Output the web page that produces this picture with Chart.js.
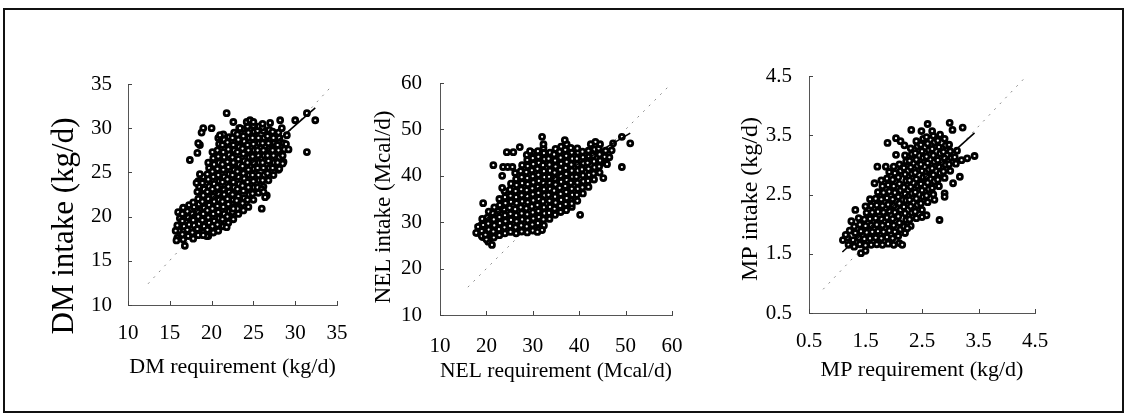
<!DOCTYPE html>
<html>
<head>
<meta charset="utf-8">
<script src="https://cdn.jsdelivr.net/npm/chart.js@4.4.1/dist/chart.umd.min.js"></script>
<style>
  html, body { margin: 0; padding: 0; background: #fff; }
  body { width: 1127px; height: 417px; position: relative; overflow: hidden; }
  canvas { position: absolute; top: 0; }
  #frame { position: absolute; left: 3px; top: 8px; width: 1121px; height: 405px; box-sizing: border-box; border: 2px solid #111; }
</style>
</head>
<body>
<div id="frame"></div>
<canvas id="c1" width="365" height="417" style="left:0px"></canvas>
<canvas id="c2" width="375" height="417" style="left:365px"></canvas>
<canvas id="c3" width="387" height="417" style="left:740px"></canvas>
<script>
// ---------- tick labels ----------
const dmTicks = [10, 15, 20, 25, 30, 35];
const nelTicks = [10, 20, 30, 40, 50, 60];
const mpTicks = [0.5, 1.5, 2.5, 3.5, 4.5];

// ---------- DM: [requirement, intake] kg/d ----------
const dmPoints = [
[15.9,17.6],[16.1,18.4],[15.9,19.0],[16.2,19.8],[16.0,20.5],
[16.6,17.4],[16.5,18.0],[16.7,18.9],[16.5,19.5],[16.7,20.3],[16.6,20.9],
[17.2,17.8],[17.1,18.5],[17.3,19.1],[17.2,19.9],[17.1,20.6],[17.3,21.3],
[17.8,17.5],[17.7,18.2],[17.9,19.0],[17.8,19.6],[17.7,20.3],[17.9,21.1],[17.8,21.6],
[18.4,17.9],[18.3,18.6],[18.5,19.2],[18.4,20.0],[18.3,20.6],[18.5,21.4],[18.4,22.0],[18.3,22.8],[18.5,23.4],[18.4,24.0],
[19.0,18.2],[19.1,18.9],[18.9,19.6],[19.0,20.3],[19.1,21.0],[18.9,21.7],[19.0,22.4],[19.1,23.1],[18.9,23.8],[19.0,24.5],
[19.6,17.8],[19.5,18.5],[19.7,19.3],[19.6,19.9],[19.5,20.7],[19.7,21.3],[19.6,22.0],[19.5,22.8],[19.7,23.4],[19.6,24.2],[19.5,24.8],[19.7,25.5],[19.6,26.1],
[20.2,18.2],[20.1,18.9],[20.3,19.5],[20.2,20.3],[20.1,20.9],[20.3,21.7],[20.2,22.3],[20.1,23.1],[20.3,23.7],[20.2,24.5],[20.1,25.1],[20.3,25.9],[20.2,26.6],[20.1,27.3],
[20.8,18.4],[20.7,19.1],[20.9,19.8],[20.8,20.5],[20.7,21.2],[20.9,21.9],[20.8,22.6],[20.7,23.3],[20.9,24.0],[20.8,24.7],[20.7,25.4],[20.9,26.1],[20.8,26.8],[20.7,27.5],[20.9,28.2],[20.8,28.9],
[21.4,18.9],[21.3,19.7],[21.5,20.3],[21.4,21.1],[21.3,21.7],[21.5,22.5],[21.4,23.1],[21.3,23.9],[21.5,24.5],[21.4,25.3],[21.3,25.9],[21.5,26.7],[21.4,27.3],[21.3,28.1],[21.5,28.7],[21.4,29.3],
[22.0,19.3],[21.9,20.0],[22.1,20.6],[22.0,21.4],[21.9,22.0],[22.1,22.8],[22.0,23.4],[21.9,24.2],[22.1,24.8],[22.0,25.6],[21.9,26.2],[22.1,27.0],[22.0,27.6],[21.9,28.4],[22.1,29.0],
[22.6,19.7],[22.5,20.5],[22.7,21.1],[22.6,21.9],[22.5,22.5],[22.7,23.3],[22.6,23.9],[22.5,24.7],[22.7,25.3],[22.6,26.1],[22.5,26.7],[22.7,27.5],[22.6,28.1],[22.5,28.9],[22.7,29.5],
[23.2,20.3],[23.1,20.9],[23.3,21.7],[23.2,22.3],[23.1,23.1],[23.3,23.7],[23.2,24.5],[23.1,25.1],[23.3,25.9],[23.2,26.5],[23.1,27.3],[23.3,27.9],[23.2,28.7],[23.1,29.3],[23.3,30.0],
[23.8,20.7],[23.7,21.5],[23.9,22.1],[23.8,22.9],[23.7,23.5],[23.9,24.3],[23.8,24.9],[23.7,25.7],[23.9,26.3],[23.8,27.1],[23.7,27.7],[23.9,28.5],[23.8,29.1],[23.7,29.9],
[24.4,21.1],[24.3,21.9],[24.5,22.5],[24.4,23.3],[24.3,23.9],[24.5,24.7],[24.4,25.3],[24.3,26.1],[24.5,26.7],[24.4,27.5],[24.3,28.1],[24.5,28.9],[24.4,29.5],[24.3,30.2],
[25.0,21.9],[24.9,22.6],[25.1,23.3],[25.0,24.0],[24.9,24.7],[25.1,25.4],[25.0,26.1],[24.9,26.8],[25.1,27.5],[25.0,28.2],[24.9,28.9],[25.1,29.6],[25.0,30.3],
[25.6,22.7],[25.5,23.3],[25.7,24.1],[25.6,24.7],[25.5,25.5],[25.7,26.1],[25.6,26.9],[25.5,27.5],[25.7,28.3],[25.6,28.9],[25.5,29.7],[25.7,30.2],
[26.2,23.4],[26.1,24.1],[26.3,24.7],[26.2,25.5],[26.1,26.1],[26.3,26.9],[26.2,27.5],[26.1,28.3],[26.3,28.9],[26.2,29.7],[26.1,30.1],
[26.8,24.1],[26.7,24.9],[26.9,25.5],[26.8,26.3],[26.7,26.9],[26.9,27.7],[26.8,28.3],[26.7,29.1],[26.9,29.8],
[27.4,24.7],[27.3,25.5],[27.5,26.1],[27.4,26.9],[27.3,27.5],[27.5,28.3],[27.4,28.9],[27.3,29.6],
[28.0,25.3],[27.9,26.1],[28.1,26.7],[28.0,27.5],[27.9,28.1],[28.1,28.9],[28.0,29.5],
[28.6,26.2],[28.5,26.9],[28.7,27.6],[28.6,28.3],
[21.8,31.7],[22.6,30.7],[19.0,30.0],[18.8,29.5],[20.0,30.0],[18.6,28.1],[17.4,26.4],[18.3,27.2],[18.4,28.3],[18.2,23.8],
[18.6,24.8],[16.6,21.0],[16.5,20.3],[15.8,17.3],[16.8,16.7],[15.7,18.4],[32.4,30.9],[31.4,27.3],[31.4,31.7],[30.0,30.9],
[28.2,30.9],[28.4,30.0],[28.9,28.2],[28.5,26.0],[28.1,25.4],[26.0,20.9],[26.6,22.4],[26.0,23.1],[26.2,22.8],[26.4,22.2],
[24.2,30.7],[24.6,30.9],[25.0,30.7],[26.1,30.5],[23.4,30.0],[21.0,29.2],[23.0,21.8],[22.6,20.9],[21.8,18.8],[19.4,17.8],
[19.0,17.9],[29.2,27.6],[29.0,29.2],[27.0,30.6]
];
const dmUnity = [[12.4, 12.4], [34.4, 34.8]];
const dmFit = [[17.0, 19.6], [32.4, 32.3]];

// ---------- NEL: [requirement, intake] Mcal/d ----------
const nelPoints = [
[18.0,27.7],[18.2,29.0],
[19.2,26.8],[19.0,28.1],[19.3,29.4],[19.1,30.7],
[20.4,25.8],[20.3,27.1],[20.5,28.4],[20.4,29.7],[20.2,31.0],[20.5,32.3],
[21.6,26.7],[21.5,28.0],[21.7,29.3],[21.6,30.6],[21.4,31.9],[21.7,33.2],
[22.8,27.2],[22.7,28.5],[22.9,29.8],[22.8,31.1],[22.6,32.4],[22.9,33.7],[22.8,35.0],
[24.0,27.6],[23.9,28.9],[24.1,30.2],[24.0,31.5],[23.8,32.8],[24.1,34.1],[24.0,35.4],[23.9,36.7],
[25.2,27.9],[25.1,29.2],[25.3,30.5],[25.2,31.8],[25.0,33.1],[25.3,34.4],[25.2,35.7],[25.1,37.0],[25.3,38.3],
[26.4,27.6],[26.3,28.9],[26.5,30.2],[26.4,31.5],[26.2,32.8],[26.5,34.1],[26.4,35.4],[26.3,36.7],[26.5,38.0],[26.4,39.3],[26.2,40.6],
[27.6,28.0],[27.5,29.3],[27.7,30.6],[27.6,31.9],[27.4,33.2],[27.7,34.5],[27.6,35.8],[27.5,37.1],[27.7,38.4],[27.6,39.7],[27.4,41.0],[27.7,42.3],
[28.8,27.8],[28.7,29.1],[28.9,30.4],[28.8,31.7],[28.6,33.0],[28.9,34.3],[28.8,35.6],[28.7,36.9],[28.9,38.2],[28.8,39.5],[28.6,40.8],[28.9,42.1],[28.8,43.4],[28.7,44.5],
[30.0,28.2],[29.9,29.5],[30.1,30.8],[30.0,32.1],[29.8,33.4],[30.1,34.7],[30.0,36.0],[29.9,37.3],[30.1,38.6],[30.0,39.9],[29.8,41.2],[30.1,42.5],[30.0,43.8],[29.9,45.0],
[31.2,28.5],[31.1,29.8],[31.3,31.1],[31.2,32.4],[31.0,33.7],[31.3,35.0],[31.2,36.3],[31.1,37.6],[31.3,38.9],[31.2,40.2],[31.0,41.5],[31.3,42.8],[31.2,44.1],[31.1,45.3],
[32.4,29.3],[32.3,30.6],[32.5,31.9],[32.4,33.2],[32.2,34.5],[32.5,35.8],[32.4,37.1],[32.3,38.4],[32.5,39.7],[32.4,41.0],[32.2,42.3],[32.5,43.6],[32.4,44.9],[32.3,46.0],
[33.6,30.7],[33.5,32.0],[33.7,33.3],[33.6,34.6],[33.4,35.9],[33.7,37.2],[33.6,38.5],[33.5,39.8],[33.7,41.1],[33.6,42.4],[33.4,43.7],[33.7,45.0],
[34.8,31.6],[34.7,32.9],[34.9,34.2],[34.8,35.5],[34.6,36.8],[34.9,38.1],[34.8,39.4],[34.7,40.7],[34.9,42.0],[34.8,43.3],[34.6,44.6],[34.9,45.8],
[36.0,32.2],[35.9,33.5],[36.1,34.8],[36.0,36.1],[35.8,37.4],[36.1,38.7],[36.0,40.0],[35.9,41.3],[36.1,42.6],[36.0,43.9],[35.8,45.2],[36.1,46.3],
[37.2,32.6],[37.1,33.9],[37.3,35.2],[37.2,36.5],[37.0,37.8],[37.3,39.1],[37.2,40.4],[37.1,41.7],[37.3,43.0],[37.2,44.3],[37.0,45.6],[37.3,46.8],
[38.4,33.3],[38.3,34.6],[38.5,35.9],[38.4,37.2],[38.2,38.5],[38.5,39.8],[38.4,41.1],[38.3,42.4],[38.5,43.7],[38.4,45.0],[38.2,46.0],
[39.6,34.6],[39.5,35.9],[39.7,37.2],[39.6,38.5],[39.4,39.8],[39.7,41.1],[39.6,42.4],[39.5,43.7],[39.7,45.0],[39.6,45.9],
[40.8,36.2],[40.7,37.5],[40.9,38.8],[40.8,40.1],[40.6,41.4],[40.9,42.7],[40.8,44.0],[40.7,45.2],
[42.0,37.6],[41.9,38.9],[42.1,40.2],[42.0,41.5],[41.8,42.8],[42.1,44.1],[42.0,45.4],
[43.2,39.2],[43.1,40.5],[43.3,41.8],[43.2,43.1],[43.0,44.4],[43.3,45.7],
[44.4,40.7],[44.3,42.0],[44.5,43.3],[44.4,44.6],[44.2,45.9],
[45.6,42.8],[45.5,44.1],[45.7,45.4],
[17.8,27.7],[19.3,34.1],[21.5,42.3],[23.4,37.4],[23.4,40.0],[23.6,41.9],[24.6,41.9],[25.6,41.9],[24.4,45.1],[25.8,45.1],
[27.2,46.2],[32.0,48.4],[32.3,46.8],[29.4,45.3],[21.2,25.1],[40.2,31.6],[45.2,39.5],[49.2,41.9],[51.0,47.0],[49.2,48.4],
[47.3,47.0],[44.5,46.8],[46.5,44.0],[47.0,45.5],[46.0,42.5],[43.5,47.3],[42.5,46.8],[36.9,47.7],[38.4,34.0],[32.0,28.3],
[31.0,27.9],[19.0,27.0],[20.0,26.3],[19.8,27.3]
];
const nelUnity = [[16, 16], [59, 59]];
const nelFit = [[17.5, 29.3], [51, 49.2]];

// ---------- MP: [requirement, intake] kg/d ----------
const mpPoints = [
[1.20,1.65],[1.18,1.77],[1.22,1.89],
[1.30,1.62],[1.28,1.73],[1.32,1.85],[1.30,1.96],
[1.40,1.66],[1.38,1.77],[1.42,1.88],[1.40,1.99],[1.38,2.10],
[1.50,1.64],[1.48,1.75],[1.52,1.86],[1.50,1.97],[1.48,2.08],[1.52,2.19],[1.50,2.30],
[1.60,1.65],[1.58,1.76],[1.62,1.87],[1.60,1.98],[1.58,2.09],[1.62,2.20],[1.60,2.31],[1.58,2.42],
[1.70,1.66],[1.68,1.77],[1.72,1.88],[1.70,1.99],[1.68,2.10],[1.72,2.21],[1.70,2.32],[1.68,2.43],[1.72,2.54],
[1.80,1.65],[1.78,1.76],[1.82,1.87],[1.80,1.98],[1.78,2.09],[1.82,2.20],[1.80,2.31],[1.78,2.42],[1.82,2.53],[1.80,2.64],[1.78,2.74],
[1.90,1.67],[1.88,1.78],[1.92,1.89],[1.90,2.00],[1.88,2.11],[1.92,2.22],[1.90,2.33],[1.88,2.44],[1.92,2.55],[1.90,2.66],[1.88,2.77],[1.92,2.88],
[2.00,1.65],[1.98,1.76],[2.02,1.87],[2.00,1.98],[1.98,2.09],[2.02,2.20],[2.00,2.31],[1.98,2.42],[2.02,2.53],[2.00,2.64],[1.98,2.75],[2.02,2.86],[2.00,2.97],
[2.10,1.68],[2.08,1.80],[2.12,1.91],[2.10,2.02],[2.08,2.13],[2.12,2.24],[2.10,2.35],[2.08,2.46],[2.12,2.57],[2.10,2.68],[2.08,2.79],[2.12,2.90],[2.10,3.01],
[2.20,1.85],[2.18,1.96],[2.22,2.07],[2.20,2.18],[2.18,2.29],[2.22,2.40],[2.20,2.51],[2.18,2.62],[2.22,2.73],[2.20,2.84],[2.18,2.95],[2.22,3.06],[2.20,3.16],
[2.30,1.97],[2.28,2.08],[2.32,2.19],[2.30,2.30],[2.28,2.41],[2.32,2.52],[2.30,2.63],[2.28,2.74],[2.32,2.85],[2.30,2.96],[2.28,3.07],[2.32,3.18],[2.30,3.28],
[2.40,2.10],[2.38,2.21],[2.42,2.32],[2.40,2.43],[2.38,2.54],[2.42,2.65],[2.40,2.76],[2.38,2.87],[2.42,2.98],[2.40,3.09],[2.38,3.20],[2.42,3.31],[2.40,3.40],
[2.50,2.24],[2.48,2.35],[2.52,2.46],[2.50,2.57],[2.48,2.68],[2.52,2.79],[2.50,2.90],[2.48,3.01],[2.52,3.12],[2.50,3.23],[2.48,3.34],[2.52,3.44],
[2.60,2.37],[2.58,2.48],[2.62,2.59],[2.60,2.70],[2.58,2.81],[2.62,2.92],[2.60,3.03],[2.58,3.14],[2.62,3.25],[2.60,3.36],[2.58,3.47],
[2.70,2.50],[2.68,2.61],[2.72,2.72],[2.70,2.83],[2.68,2.94],[2.72,3.05],[2.70,3.16],[2.68,3.27],[2.72,3.38],[2.70,3.49],[2.68,3.57],
[2.80,2.64],[2.78,2.75],[2.82,2.86],[2.80,2.97],[2.78,3.08],[2.82,3.19],[2.80,3.30],[2.78,3.41],[2.82,3.51],
[2.90,2.78],[2.88,2.89],[2.92,3.00],[2.90,3.11],[2.88,3.22],[2.92,3.33],[2.90,3.44],
[3.00,2.90],[2.98,3.01],[3.02,3.12],[3.00,3.23],[2.98,3.34],
[3.10,3.02],[3.08,3.13],[3.12,3.24],
[1.10,1.73],[1.42,1.51],[1.32,2.24],[1.25,2.05],[1.66,2.69],[1.71,2.97],[1.86,2.97],[1.89,3.37],[2.04,3.45],[2.12,3.40],
[2.19,3.33],[2.04,3.17],[2.31,3.59],[2.49,3.57],[2.60,3.69],[2.99,3.71],[3.04,3.59],[3.22,3.63],[3.43,3.15],[3.30,3.11],
[3.20,3.08],[3.17,2.80],[3.05,2.69],[2.90,2.52],[2.81,2.07],[2.58,2.15],[2.50,2.12],[2.24,1.93],[2.72,2.41],[2.90,2.46],
[1.15,1.82],[1.50,1.55],[2.15,1.65]
];
const mpUnity = [[0.75, 0.9], [4.4, 4.55]];
const mpFit = [[1.09, 1.53], [3.43, 3.54]];

// ---------- drawing ----------
const FONT = '"Liberation Serif", "Times New Roman", serif';

const axisDecor = {
  id: 'axisDecor',
  afterDraw(chart, args, opts) {
    const ctx = chart.ctx, ca = chart.chartArea;
    const xs = chart.scales.x, ys = chart.scales.y;
    ctx.save();
    ctx.strokeStyle = '#444';
    ctx.lineWidth = 1;
    ctx.beginPath();
    xs.ticks.forEach(t => {
      const p = Math.round(xs.getPixelForValue(t.value)) + 0.5;
      ctx.moveTo(p, ca.bottom); ctx.lineTo(p, ca.bottom - 4);
    });
    ys.ticks.forEach(t => {
      const p = Math.round(ys.getPixelForValue(t.value)) + 0.5;
      ctx.moveTo(ca.left, p); ctx.lineTo(ca.left + 4, p);
    });
    ctx.stroke();
    ctx.fillStyle = '#000';
    ctx.font = opts.size + 'px ' + FONT;
    ctx.translate(opts.x, opts.y);
    ctx.rotate(-Math.PI / 2);
    ctx.textAlign = 'center';
    ctx.textBaseline = 'middle';
    ctx.fillText(opts.text, 0, 0);
    ctx.restore();
  }
};

const toXY = arr => arr.map(p => ({ x: p[0], y: p[1] }));

function makePanel(id, cfg) {
  const fmt = v => cfg.decimals ? Number(v).toFixed(cfg.decimals) : String(v);
  new Chart(document.getElementById(id), {
    type: 'scatter',
    data: {
      datasets: [
        { data: toXY(cfg.unity), showLine: true, borderColor: '#8a8a8a', borderWidth: 1, borderDash: [2, 6], pointRadius: 0, order: 3 },
        { data: toXY(cfg.points), pointStyle: 'circle', pointRadius: 2.5, borderWidth: 2.8, borderColor: '#000', backgroundColor: '#fff', order: 2 },
        { data: toXY(cfg.fit), showLine: true, borderColor: '#000', borderWidth: 1.6, pointRadius: 0, order: 1 }
      ]
    },
    options: {
      responsive: false,
      devicePixelRatio: 1,
      animation: false,
      events: [],
      layout: { padding: cfg.pad },
      plugins: { legend: { display: false }, tooltip: { enabled: false }, axisDecor: cfg.ytitle },
      scales: {
        x: {
          type: 'linear', min: cfg.ticks[0], max: cfg.ticks[cfg.ticks.length - 1],
          afterBuildTicks: s => { s.ticks = cfg.ticks.map(v => ({ value: v })); },
          afterFit: s => { s.height = cfg.xh; },
          ticks: { font: { family: FONT, size: 21 }, color: '#000', padding: cfg.xpad, callback: fmt, maxRotation: 0, autoSkip: false },
          grid: { display: false, drawTicks: false },
          border: { display: true, color: '#555', width: 1 },
          title: { display: true, text: cfg.xtitle, color: '#000', font: { family: FONT, size: 22 }, padding: { top: 0, bottom: cfg.xtpad } }
        },
        y: {
          type: 'linear', min: cfg.ticks[0], max: cfg.ticks[cfg.ticks.length - 1],
          afterBuildTicks: s => { s.ticks = cfg.ticks.map(v => ({ value: v })); },
          afterFit: s => { s.width = cfg.yw; },
          ticks: { font: { family: FONT, size: 21 }, color: '#000', padding: cfg.ypad, callback: fmt, autoSkip: false },
          grid: { display: false, drawTicks: false },
          border: { display: true, color: '#555', width: 1 }
        }
      }
    },
    plugins: [axisDecor]
  });
}

makePanel('c1', {
  points: dmPoints, unity: dmUnity, fit: dmFit, ticks: dmTicks, decimals: 0,
  pad: { left: 0, top: 84, right: 28, bottom: 0 }, yw: 128, xh: 112, xpad: 16, ypad: 16, xtpad: 37,
  xtitle: 'DM requirement (kg/d)',
  ytitle: { text: 'DM intake (kg/d)', x: 65, y: 226, size: 31 }
});
makePanel('c2', {
  points: nelPoints, unity: nelUnity, fit: nelFit, ticks: nelTicks, decimals: 0,
  pad: { left: 0, top: 83, right: 68, bottom: 0 }, yw: 75, xh: 102, xpad: 19, ypad: 18, xtpad: 33,
  xtitle: 'NEL requirement (Mcal/d)',
  ytitle: { text: 'NEL intake (Mcal/d)', x: 19, y: 207, size: 23 }
});
makePanel('c3', {
  points: mpPoints, unity: mpUnity, fit: mpFit, ticks: mpTicks, decimals: 1,
  pad: { left: 0, top: 76, right: 92, bottom: 0 }, yw: 69, xh: 104, xpad: 16, ypad: 17, xtpad: 34,
  xtitle: 'MP requirement (kg/d)',
  ytitle: { text: 'MP intake (kg/d)', x: 11, y: 199, size: 24 }
});
</script>
</body>
</html>
